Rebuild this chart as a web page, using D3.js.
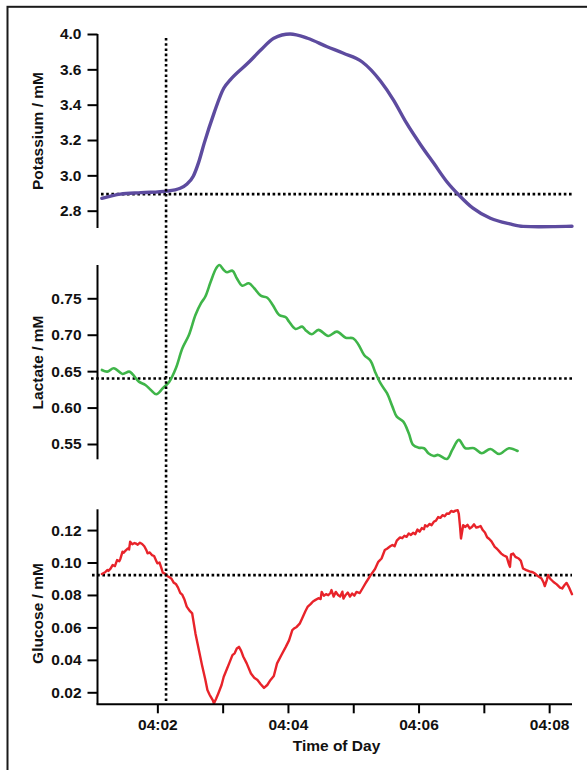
<!DOCTYPE html>
<html>
<head>
<meta charset="utf-8">
<script src="https://cdn.jsdelivr.net/npm/d3@7/dist/d3.min.js"></script>
<style>
  html, body { margin: 0; padding: 0; background: #fff; }
  svg { display: block; }
  text { font-family: "Liberation Sans", Arial, Helvetica, sans-serif; font-weight: bold; fill: #111; }
</style>
</head>
<body>
<script>
// ---- Recorded traces: seconds after 04:00:00, concentrations in mM ----
const potassiumSec = [69, 86, 105, 129, 141, 147, 153, 158, 163, 172, 181, 187, 203, 215, 227, 242, 258, 276, 291, 308, 325, 337, 349, 362, 374, 386, 397, 410, 426, 444, 456, 470, 485, 501];
const potassiumMM  = [2.870, 2.894, 2.902, 2.911, 2.927, 2.950, 2.995, 3.075, 3.181, 3.351, 3.493, 3.540, 3.634, 3.709, 3.776, 3.800, 3.776, 3.728, 3.691, 3.643, 3.534, 3.426, 3.295, 3.172, 3.068, 2.964, 2.889, 2.814, 2.757, 2.725, 2.711, 2.709, 2.710, 2.712];

const lactateSec = [69, 74, 80, 88, 94, 97, 103, 109, 114, 119, 125, 131, 137, 143, 149, 155, 160, 164, 169, 174, 177, 181, 184, 189, 193, 198, 204, 209, 215, 221, 226, 232, 238, 241, 247, 253, 256, 262, 268, 277, 285, 293, 300, 305, 310, 316, 320, 325, 331, 336, 340, 346, 351, 355, 360, 365, 369, 374, 378, 386, 391, 397, 403, 411, 418, 426, 434, 443, 451];
const lactateMM  = [0.6516, 0.6493, 0.6540, 0.6462, 0.6493, 0.6462, 0.6356, 0.6310, 0.6242, 0.6183, 0.6265, 0.6356, 0.6540, 0.6814, 0.6997, 0.7271, 0.7430, 0.7521, 0.7727, 0.7911, 0.7957, 0.7889, 0.7857, 0.7879, 0.7775, 0.7673, 0.7706, 0.7638, 0.7536, 0.7508, 0.7409, 0.7271, 0.7239, 0.7179, 0.7079, 0.7111, 0.7066, 0.7007, 0.7066, 0.6983, 0.7042, 0.6959, 0.6951, 0.6860, 0.6722, 0.6640, 0.6493, 0.6334, 0.6197, 0.6013, 0.5876, 0.5808, 0.5647, 0.5487, 0.5450, 0.5442, 0.5373, 0.5336, 0.5350, 0.5295, 0.5419, 0.5556, 0.5442, 0.5442, 0.5373, 0.5432, 0.5363, 0.5442, 0.5404];

// glucose trace as [seconds after 04:00:00, mM]
const glucoseTrace = [
  [69, .0929], [72, .0940], [74, .0954], [75, .0948], [77, .0962], [79, .0985], [81, .0978],
  [83, .1015], [85, .1008], [86, .1022], [88, .1067], [89, .1060], [91, .1075], [93, .1087],
  [94, .1080], [95, .1128], [97, .1112], [99, .1120], [100, .1118], [102, .1110], [104, .1122],
  [106, .1114], [108, .1100], [110, .1075], [111, .1057], [113, .1062], [115, .1046], [117, .1040],
  [119, .1010], [120, .0995], [122, .1000], [124, .0960], [125, .0937], [127, .0932], [129, .0917],
  [131, .0910], [133, .0900], [135, .0876], [137, .0868], [139, .0845], [141, .0813], [143, .0800],
  [145, .0770], [147, .0728], [150, .0700], [152, .0686], [155, .0563], [158, .0465], [161, .0368],
  [164, .0280], [166, .0214], [168, .0185], [169, .0173], [171, .0150], [172, .0131], [174, .0160],
  [176, .0193], [179, .0245], [181, .0296], [184, .0345], [186, .0378], [189, .0429], [191, .0440],
  [193, .0470], [195, .0480], [197, .0455], [199, .0419], [202, .0380], [206, .0316], [209, .0290],
  [212, .0276], [215, .0250], [218, .0227], [221, .0245], [224, .0276], [227, .0300], [230, .0378],
  [234, .0430], [238, .0480], [241, .0520], [244, .0583], [246, .0595], [248, .0603], [251, .0625],
  [253, .0655], [256, .0700], [258, .0726], [261, .0745], [263, .0760], [265, .0768], [268, .0780],
  [270, .0775], [271, .0819], [273, .0795], [275, .0805], [277, .0798], [279, .0812], [280, .0830],
  [282, .0790], [284, .0819], [286, .0800], [288, .0790], [290, .0820], [291, .0778], [293, .0800],
  [295, .0815], [297, .0790], [299, .0809], [301, .0796], [303, .0819], [306, .0812], [309, .0846],
  [312, .0880], [316, .0922], [320, .0960], [323, .1004], [326, .1025], [329, .1077], [331, .1085],
  [334, .1100], [336, .1108], [338, .1100], [340, .1135], [343, .1155], [345, .1150], [347, .1165],
  [349, .1158], [351, .1179], [353, .1170], [355, .1183], [357, .1175], [359, .1203], [361, .1190],
  [363, .1212], [365, .1205], [366, .1230], [368, .1222], [370, .1238], [372, .1230], [374, .1251],
  [376, .1258], [378, .1280], [380, .1275], [382, .1292], [384, .1285], [386, .1302], [388, .1300],
  [390, .1318], [392, .1312], [394, .1320], [396, .1322], [397, .1300], [398, .1230], [399, .1148],
  [401, .1230], [403, .1219], [405, .1232], [407, .1210], [409, .1219], [411, .1235], [413, .1215],
  [415, .1219], [417, .1225], [419, .1200], [421, .1185], [423, .1156], [425, .1145], [427, .1130],
  [430, .1096], [432, .1085], [434, .1070], [436, .1055], [438, .1045], [441, .1035], [443, .0990],
  [444, .0973], [445, .1050], [447, .1055], [449, .1035], [452, .1025], [454, .1010], [456, .0963],
  [459, .0953], [462, .0945], [465, .0940], [467, .0932], [470, .0915], [473, .0901], [475, .0875],
  [476, .0855], [478, .0895], [479, .0923], [481, .0900], [484, .0880], [487, .0865], [490, .0845],
  [492, .0840], [494, .0860], [496, .0874], [498, .0850], [501, .0805]
];

// Reference levels (dotted) and event marker
const potassiumBaseline = 2.894;
const lactateBaseline = 0.640;
const glucoseBaseline = 0.0922;
const eventSec = 128;

// Axis ranges and ticks
const timeRangeSec = [65, 501];
const timeTickSec = [120, 180, 240, 300, 360, 420, 480];
const timeTickLabels = ["04:02", "", "04:04", "", "04:06", "", "04:08"];

const potassiumDomain = [2.702, 3.800];
const potassiumTicks = [3.8, 3.6, 3.4, 3.2, 3.0, 2.8];
const potassiumTickLabels = ["4.0", "3.6", "3.4", "3.2", "3.0", "2.8"];

const lactateDomain = [0.5290, 0.7957];
const lactateTicks = [0.75, 0.70, 0.65, 0.60, 0.55];
const lactateTickLabels = ["0.75", "0.70", "0.65", "0.60", "0.55"];

const glucoseDomain = [0.0126, 0.1328];
const glucoseTicks = [0.12, 0.10, 0.08, 0.06, 0.04, 0.02];
const glucoseTickLabels = ["0.12", "0.10", "0.08", "0.06", "0.04", "0.02"];

// ---- Drawing ----
const W = 587, H = 770;
const svg = d3.select("body").append("svg").attr("width", W).attr("height", H);

// frame
svg.append("rect").attr("x", 7.5).attr("y", 6.8).attr("width", 700).attr("height", 900)
  .attr("fill", "none").attr("stroke", "#1a1a1a").attr("stroke-width", 2);

const t0 = new Date(2000, 0, 1, 4, 0, 0).getTime();
const toDate = s => new Date(t0 + s * 1000);

const plotLeft = 97.5, plotRight = 572;
const x = d3.scaleTime().domain(timeRangeSec.map(toDate)).range([plotLeft, plotRight]);

const panels = [
  { name: "Potassium / mM", sec: potassiumSec, val: potassiumMM, domain: potassiumDomain,
    ticks: potassiumTicks, labels: potassiumTickLabels, base: potassiumBaseline,
    range: [228, 34], color: "#5d4b9f", width: 3.4, curve: d3.curveMonotoneX,
    titleY: 131, baseFrom: 101 },
  { name: "Lactate / mM", sec: lactateSec, val: lactateMM, domain: lactateDomain,
    ticks: lactateTicks, labels: lactateTickLabels, base: lactateBaseline,
    range: [459.3, 265], color: "#3fb549", width: 2.6, curve: d3.curveCatmullRom,
    titleY: 362.5, baseFrom: 91 },
  { name: "Glucose / mM", sec: glucoseTrace.map(d => d[0]), val: glucoseTrace.map(d => d[1]),
    domain: glucoseDomain,
    ticks: glucoseTicks, labels: glucoseTickLabels, base: glucoseBaseline,
    range: [704.3, 509.3], color: "#e8232a", width: 2.4, curve: d3.curveLinear,
    titleY: 613.5, baseFrom: 92 }
];

function dottedLine(sel) {
  return sel.attr("stroke", "#000").attr("stroke-width", 2.6).attr("stroke-dasharray", "2.6,2.6");
}

panels.forEach(p => {
  const y = d3.scaleLinear().domain(p.domain).range(p.range);
  const g = svg.append("g");

  // y axis
  const axis = d3.axisLeft(y).tickValues(p.ticks)
    .tickFormat((d, i) => p.labels[i]).tickSize(10).tickPadding(6);
  const ga = g.append("g").attr("transform", `translate(${plotLeft},0)`).call(axis);
  ga.select(".domain").attr("d", `M0,${p.range[0]}V${p.range[1]}`)
    .attr("stroke", "#000").attr("stroke-width", 2);
  ga.selectAll(".tick line").attr("stroke", "#000").attr("stroke-width", 2);
  ga.selectAll(".tick text").style("font-size", "15.5px").attr("fill", "#111")
    .style("font-family", '"Liberation Sans", Arial, sans-serif').style("font-weight", "bold");

  // axis title
  g.append("text")
    .attr("transform", `translate(42.5,${p.titleY}) rotate(-90)`)
    .attr("text-anchor", "middle").style("font-size", "15.5px")
    .text(p.name);

  // dotted baseline
  g.append("line").attr("x1", p.baseFrom).attr("x2", 572)
    .attr("y1", y(p.base)).attr("y2", y(p.base)).call(dottedLine);

  // trace
  const pts = p.sec.map((s, i) => [toDate(s), p.val[i]]);
  g.append("path").datum(pts)
    .attr("fill", "none").attr("stroke", p.color).attr("stroke-width", p.width)
    .attr("stroke-linejoin", "round").attr("stroke-linecap", "round")
    .attr("d", d3.line().x(d => x(d[0])).y(d => y(d[1])).curve(p.curve));
});

// event marker
svg.append("line").attr("x1", x(toDate(eventSec))).attr("x2", x(toDate(eventSec)))
  .attr("y1", 38).attr("y2", 703).call(dottedLine);

// time axis
const xAxis = d3.axisBottom(x).tickValues(timeTickSec.map(toDate))
  .tickFormat((d, i) => timeTickLabels[i]).tickSize(9).tickPadding(6);
const gx = svg.append("g").attr("transform", "translate(0,704.3)").call(xAxis);
gx.select(".domain").attr("d", `M${plotLeft - 1},0H${plotRight}`)
  .attr("stroke", "#000").attr("stroke-width", 2);
gx.selectAll(".tick line").attr("stroke", "#000").attr("stroke-width", 2);
gx.selectAll(".tick text").style("font-size", "15.5px").attr("fill", "#111")
  .style("font-family", '"Liberation Sans", Arial, sans-serif').style("font-weight", "bold");

svg.append("text").attr("x", 336.5).attr("y", 750.5).attr("text-anchor", "middle")
  .style("font-size", "15.5px").text("Time of Day");
</script>
</body>
</html>
